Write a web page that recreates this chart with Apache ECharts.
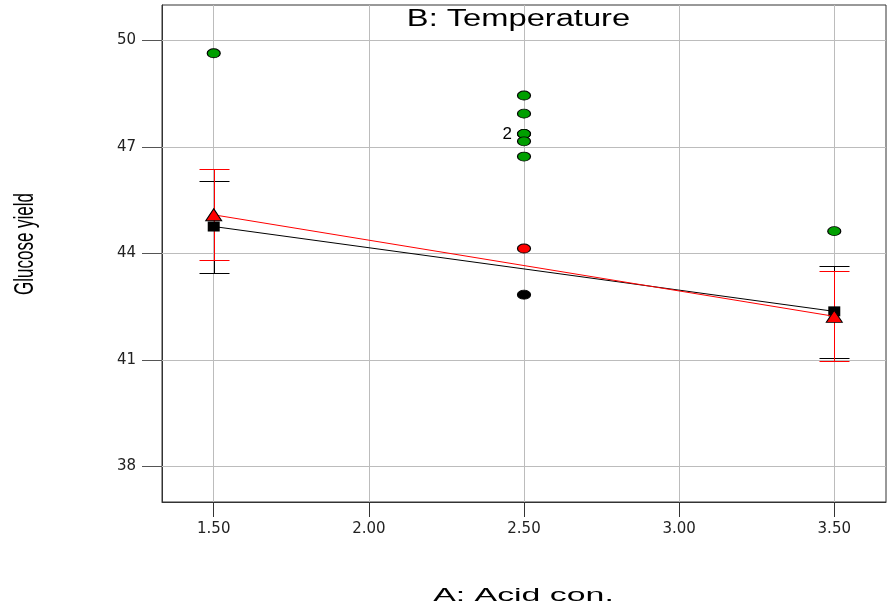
<!DOCTYPE html>
<html>
<head>
<meta charset="utf-8">
<script src="https://cdn.jsdelivr.net/npm/echarts@6/dist/echarts.min.js"></script>
<style>
  html, body { margin: 0; padding: 0; background: #fff; }
  #chart { width: 889px; height: 611px; }
</style>
</head>
<body>
<div id="chart"></div>
<script>
// Axis ticks
const xTicks = [1.5, 2.0, 2.5, 3.0, 3.5];
const yTicks = [38, 41, 44, 47, 50];

// Predicted means at the two acid levels, with LSD bars
const acidLevels = [1.5, 3.5];
const lowTempMean = [44.76, 42.37];
const lowTempBarLow = [43.46, 41.07];
const lowTempBarHigh = [46.03, 43.64];
const highTempMean = [45.09, 42.23];
const highTempBarLow = [43.81, 40.96];
const highTempBarHigh = [46.37, 43.52];

// Design points
const centerTempX = [1.5, 2.5, 2.5, 2.5, 2.5, 2.5, 2.5, 3.5];
const centerTempY = [49.64, 48.45, 47.94, 47.37, 47.37, 47.16, 46.73, 44.63];
const highTempX = [2.5];
const highTempY = [44.14];
const lowTempX = [2.5];
const lowTempY = [42.84];

const pairs = (xs, ys) => xs.map((x, i) => [x, ys[i]]);
const bars = (lo, hi) => acidLevels.map((x, i) => [x, lo[i], hi[i]]);

function errorBar(color) {
  return function (params, api) {
    const x = api.value(0);
    const pLo = api.coord([x, api.value(1)]);
    const pHi = api.coord([x, api.value(2)]);
    const cx = Math.round(pLo[0]) + 0.5;
    const yLo = Math.round(pLo[1]) + 0.5;
    const yHi = Math.round(pHi[1]) + 0.5;
    const hw = 15;
    const st = { stroke: color, lineWidth: 1 };
    return {
      type: 'group',
      children: [
        { type: 'line', shape: { x1: cx, y1: yLo, x2: cx, y2: yHi }, style: st },
        { type: 'line', shape: { x1: cx - hw, y1: yLo, x2: cx + hw, y2: yLo }, style: st },
        { type: 'line', shape: { x1: cx - hw, y1: yHi, x2: cx + hw, y2: yHi }, style: st }
      ]
    };
  };
}

const centerData = pairs(centerTempX, centerTempY).map((p, i) =>
  i === 3
    ? { value: p, label: { show: true, formatter: '2', position: 'left', distance: 5,
        fontSize: 17, color: '#000', fontFamily: 'Liberation Sans' } }
    : p
);

const pointStyle = (fill) => ({ color: fill, borderColor: '#000', borderWidth: 1, opacity: 1 });
const gridColor = '#bcbcbc';

const chart = echarts.init(document.getElementById('chart'));
chart.setOption({
  animation: false,
  backgroundColor: '#fff',
  grid: {
    left: 162, right: 3, top: 5, bottom: 109,
    show: true, borderColor: '#333', borderWidth: 1, backgroundColor: 'transparent'
  },
  xAxis: {
    type: 'value', min: 1.3333, max: 3.6667,
    axisLine: { show: true, onZero: false, lineStyle: { color: '#333', width: 1 } },
    axisTick: { show: true, customValues: xTicks, length: 15, lineStyle: { color: '#333' } },
    axisLabel: {
      customValues: xTicks, margin: 20, fontSize: 15, color: '#222',
      fontFamily: 'DejaVu Sans', formatter: (v) => v.toFixed(2)
    },
    splitLine: { show: false }
  },
  yAxis: {
    type: 'value', min: 37, max: 51,
    axisLine: { show: true, onZero: false, lineStyle: { color: '#333', width: 1 } },
    axisTick: { show: true, customValues: yTicks, length: 20, lineStyle: { color: '#555' } },
    axisLabel: {
      customValues: yTicks, margin: 26, fontSize: 15, color: '#222',
      fontFamily: 'DejaVu Sans'
    },
    splitLine: { show: false }
  },
  graphic: [
    {
      type: 'text', x: 518.5, y: 20, scaleX: 1.42, z: 10,
      style: { text: 'B: Temperature', font: '23px "Liberation Sans"', fill: '#000',
        align: 'center', verticalAlign: 'middle' }
    },
    {
      type: 'text', x: 523.5, y: 596, scaleX: 1.88, z: 10,
      style: { text: 'A: Acid con.', font: '18px "Liberation Sans"', fill: '#000',
        align: 'center', verticalAlign: 'middle' }
    },
    {
      type: 'text', x: 25.5, y: 244, rotation: Math.PI / 2, scaleX: 0.63, z: 10,
      style: { text: 'Glucose yield', font: '27px "Liberation Sans"', fill: '#000',
        align: 'center', verticalAlign: 'middle' }
    }
  ],
  series: [
    {
      // grid lines at the tick positions
      type: 'line', data: [], z: 1, silent: true,
      markLine: {
        z: 1, silent: true, symbol: ['none', 'none'], label: { show: false },
        lineStyle: { color: gridColor, type: 'solid', width: 1 },
        data: xTicks.map((v) => ({ xAxis: v })).concat(yTicks.map((v) => ({ yAxis: v })))
      }
    },
    {
      type: 'custom', z: 3, renderItem: errorBar('#000'),
      data: bars(lowTempBarLow, lowTempBarHigh)
    },
    {
      type: 'custom', z: 4, renderItem: errorBar('#ff0000'),
      data: bars(highTempBarLow, highTempBarHigh)
    },
    {
      type: 'line', z: 5, data: pairs(acidLevels, lowTempMean),
      lineStyle: { color: '#000', width: 1 },
      symbol: 'rect', symbolSize: [12, 10], itemStyle: { color: '#000', opacity: 1 }
    },
    {
      type: 'line', z: 6, data: pairs(acidLevels, highTempMean),
      lineStyle: { color: '#ff0000', width: 1 },
      symbol: 'triangle', symbolSize: [16, 12],
      itemStyle: pointStyle('#ff0000')
    },
    {
      type: 'scatter', z: 7, data: centerData, symbol: 'circle', symbolSize: [13, 9],
      itemStyle: pointStyle('#009f00')
    },
    {
      type: 'scatter', z: 7, data: pairs(highTempX, highTempY), symbol: 'circle', symbolSize: [13, 9],
      itemStyle: pointStyle('#ff0000')
    },
    {
      type: 'scatter', z: 7, data: pairs(lowTempX, lowTempY), symbol: 'circle', symbolSize: [13, 9],
      itemStyle: pointStyle('#000')
    }
  ]
});
</script>
</body>
</html>
